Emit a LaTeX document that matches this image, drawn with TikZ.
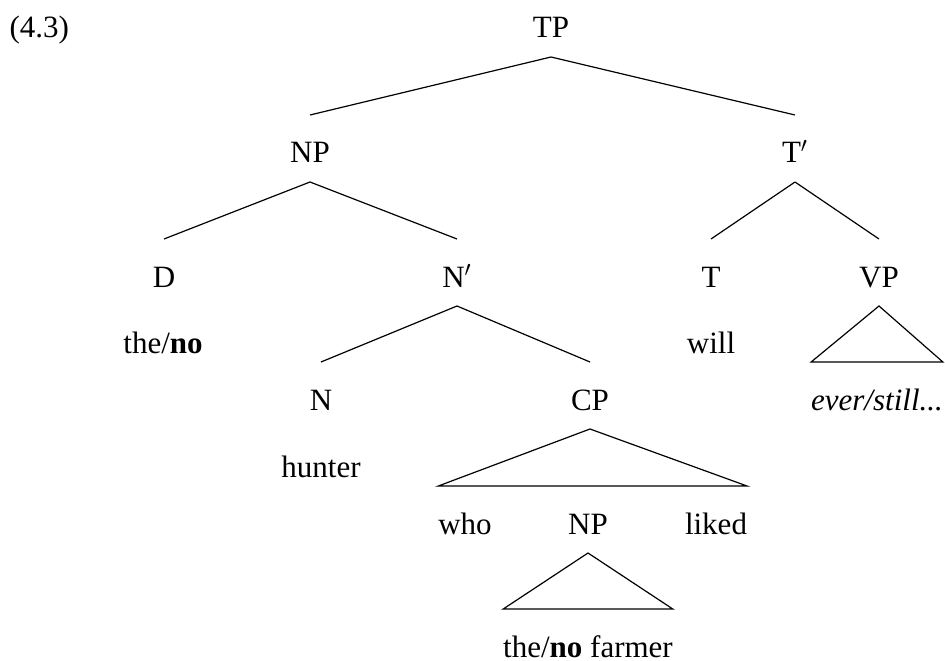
\documentclass[tikz,border=0pt]{standalone}
\usepackage{fontspec}
\setmainfont{Liberation Serif}
\usepackage{tikz}

\tikzset{cat/.style={anchor=base, inner xsep=0pt, inner ysep=9.5bp, outer sep=0pt,
  text height=14.5bp, text depth=0pt}}

\begin{document}
\begin{tikzpicture}[x=0.5bp, y=-0.5bp, line width=0.6bp, font=\fontsize{15.5bp}{18bp}\selectfont]
      \useasboundingbox (0,0) rectangle (945,661);
      \node[anchor=base west, inner sep=0pt] (ex) at (9,38) {(4.3)};
      \node[cat] (tp) at (551,38) {TP};
      \node[cat] (np) at (310,163) {NP};
      \node[cat] (tb) at (795,163) {T$'$};
      \node[cat] (d) at (164,287) {D};
      \node[cat] (nb) at (457,287) {N$'$};
      \node[cat] (t) at (711,287) {T};
      \node[cat] (vp) at (879,287) {VP};
      \node[cat] (det) at (163,353) {the/\textbf{no}};
      \node[cat] (will) at (711,353) {will};
      \node[cat] (n) at (321,410) {N};
      \node[cat] (cp) at (590,410) {CP};
      \node[cat] (ev) at (877,410) {\textit{ever/still...}};
      \node[cat] (hunter) at (321,477) {hunter};
      \node[cat] (who) at (465,534) {who};
      \node[cat] (np2) at (588,534) {NP};
      \node[cat] (liked) at (716,534) {liked};
      \node[cat] (farmer) at (588,657) {the/\textbf{no} farmer};
      \foreach \a/\b in {tp/np, tp/tb, np/d, np/nb, tb/t, tb/vp, nb/n, nb/cp}
        \draw (\a.south) -- (\b.north);
      \foreach \a/\l/\r in {vp/ev/ev, cp/who/liked, np2/farmer/farmer}
        \draw (\a.south) -- (\l.north west) -- (\r.north east) -- cycle;
    \end{tikzpicture}
\end{document}
